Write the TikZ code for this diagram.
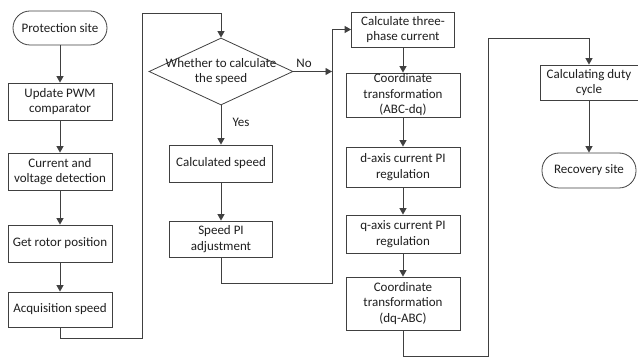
\documentclass[tikz,border=0pt]{standalone}
\usepackage{fontspec}
\setmainfont{Carlito}
\usepackage{tikz}
\usetikzlibrary{shapes.geometric,arrows.meta,positioning}
\colorlet{lineGray}{black!75}
\colorlet{textGray}{black!88}

\begin{document}
\begin{tikzpicture}[x=1pt, y=-1pt,
        every node/.style={font=\fontsize{13}{15.5}\selectfont, align=center, text=textGray},
        box/.style={draw=lineGray, line width=0.8pt, fill=white, inner sep=0pt},
        term/.style={draw=lineGray, line width=0.8pt, fill=white, inner sep=0pt, rounded corners=17pt},
        decision/.style={diamond, draw=lineGray, line width=0.8pt, inner sep=0pt},
        conn/.style={draw=lineGray, line width=0.9pt, -{Triangle[length=6.5pt,width=7pt]}}]
    \useasboundingbox (0,0) rectangle (638,358);
    % first column
    \node[term, minimum width=94, minimum height=34] (prot) at (60,28) {Protection site};
    \node[box, minimum width=104, minimum height=37] (pwm) at (60,101.5) {Update PWM\\comparator};
    \node[box, minimum width=104, minimum height=37] (detect) at (60,171.5) {Current and\\voltage detection};
    \node[box, minimum width=104, minimum height=37] (rotor) at (60,243.5) {Get rotor position};
    \node[box, minimum width=104, minimum height=35] (acq) at (60,309.5) {Acquisition speed};
    % speed branch
    \node[decision, minimum width=144, minimum height=67] (whether) at (221,71.5) {};
    \node (whetherText) at (whether.center) {Whether to calculate\\the speed};
    \node[box, minimum width=103, minimum height=37] (calcSpeed) at (221,163.5) {Calculated speed};
    \node[box, minimum width=103, minimum height=36] (speedPI) at (221,239) {Speed PI\\adjustment};
    \node[anchor=west] (yesLbl) at (229,122) {Yes};
    \node (noLbl) at (304,63) {No};
    % current loop
    \node[box, minimum width=103, minimum height=35] (threePhase) at (403,29.5) {Calculate three-\\phase current};
    \node[box, minimum width=114, minimum height=44] (abcdq) at (403,95) {Coordinate\\transformation\\(ABC-dq)};
    \node[box, minimum width=114, minimum height=40] (dAxis) at (403,167) {d-axis current PI\\regulation};
    \node[box, minimum width=114, minimum height=38] (qAxis) at (403,234) {q-axis current PI\\regulation};
    \node[box, minimum width=114, minimum height=53] (dqabc) at (403,303.5) {Coordinate\\transformation\\(dq-ABC)};
    % last column
    \node[box, minimum width=98, minimum height=35] (duty) at (589,82.5) {Calculating duty\\cycle};
    \node[term, minimum width=94, minimum height=35] (recov) at (589,170.5) {Recovery site};

    \coordinate (backB) at (142,338);
    \coordinate (backT) at (142,13);
    \coordinate (noEnd) at (332,71.5);
    \coordinate (spiB) at (332,283);
    \coordinate (outB) at (488,356);
    \coordinate (outT) at (488,38);

    \draw[conn] (prot) -- (pwm);
    \draw[conn] (pwm) -- (detect);
    \draw[conn] (detect) -- (rotor);
    \draw[conn] (rotor) -- (acq);
    \draw[conn] (acq.south) |- (backB) -- (backT) -| (whether.north);
    \draw[conn] (whether.south) -- (calcSpeed.north);
    \draw[conn] (whether.east) -- (noEnd);
    \draw[conn] (calcSpeed) -- (speedPI);
    \draw[conn] (speedPI.south) |- (spiB) |- (threePhase.west);
    \draw[conn] (threePhase) -- (abcdq);
    \draw[conn] (abcdq) -- (dAxis);
    \draw[conn] (dAxis) -- (qAxis);
    \draw[conn] (qAxis) -- (dqabc);
    \draw[conn] (dqabc.south) |- (outB) -- (outT) -| (duty.north);
    \draw[conn] (duty) -- (recov);
\end{tikzpicture}
\end{document}
